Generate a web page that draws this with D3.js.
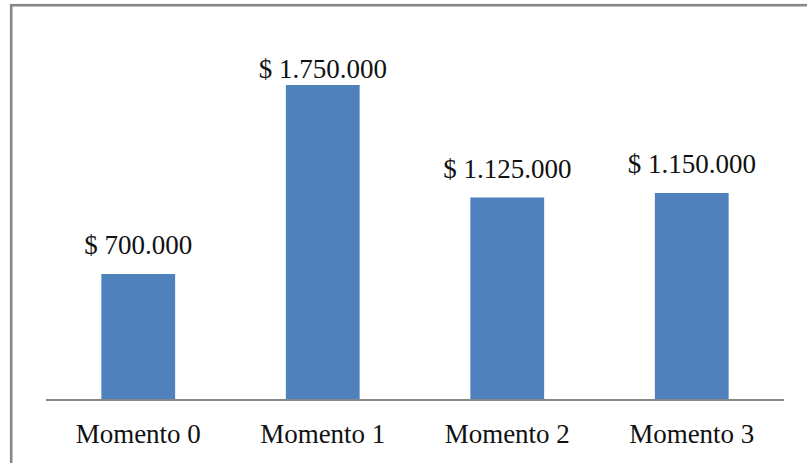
<!DOCTYPE html>
<html>
<head>
<meta charset="utf-8">
<script src="https://cdn.jsdelivr.net/npm/d3@7"></script>
<style>
  html, body { margin: 0; padding: 0; background: #fff; }
  svg { display: block; }
</style>
</head>
<body>
<svg id="chart" width="807" height="463"></svg>
<script>
// Valores por momento
const categories = ["Momento 0", "Momento 1", "Momento 2", "Momento 3"];
const values = [700000, 1750000, 1125000, 1150000];
const valueLabels = ["$ 700.000", "$ 1.750.000", "$ 1.125.000", "$ 1.150.000"];

const svg = d3.select("#chart");
const W = 807, H = 463;
const plot = { left: 46, right: 784, top: 85, bottom: 400 };
const font = "'Liberation Serif', 'Times New Roman', serif";

// Chart frame
svg.append("rect")
  .attr("x", 11.2).attr("y", 5.2)
  .attr("width", 820).attr("height", 480)
  .attr("fill", "none")
  .attr("stroke", "#878787")
  .attr("stroke-width", 2.6);

const x = d3.scaleBand()
  .domain(categories)
  .range([plot.left, plot.right])
  .paddingInner(0.6)
  .paddingOuter(0.3);

const y = d3.scaleLinear()
  .domain([0, 1750000])
  .range([plot.bottom, plot.top]);

// Bars
svg.append("g").selectAll("rect")
  .data(values)
  .join("rect")
  .attr("x", (d, i) => x(categories[i]))
  .attr("y", d => y(d))
  .attr("width", x.bandwidth())
  .attr("height", d => y(0) - y(d))
  .attr("fill", "#4F81BD");

// Category axis
const axis = svg.append("g")
  .attr("transform", `translate(0,${plot.bottom})`)
  .call(d3.axisBottom(x).tickSize(0).tickPadding(0));
axis.select(".domain")
  .attr("stroke", "#878787")
  .attr("stroke-width", 2)
  .attr("d", `M${plot.left},0H${plot.right}`);
axis.selectAll(".tick text")
  .attr("y", 43)
  .attr("dy", null)
  .attr("fill", "#111")
  .style("font-family", font)
  .style("font-size", "27px");

// Value labels, kept inside the plot area
svg.append("g").selectAll("text")
  .data(values)
  .join("text")
  .attr("x", (d, i) => x(categories[i]) + x.bandwidth() / 2)
  .attr("y", d => Math.max(y(d) - 20, 78))
  .attr("text-anchor", "middle")
  .attr("fill", "#111")
  .style("font-family", font)
  .style("font-size", "27px")
  .text((d, i) => valueLabels[i]);
</script>
</body>
</html>
